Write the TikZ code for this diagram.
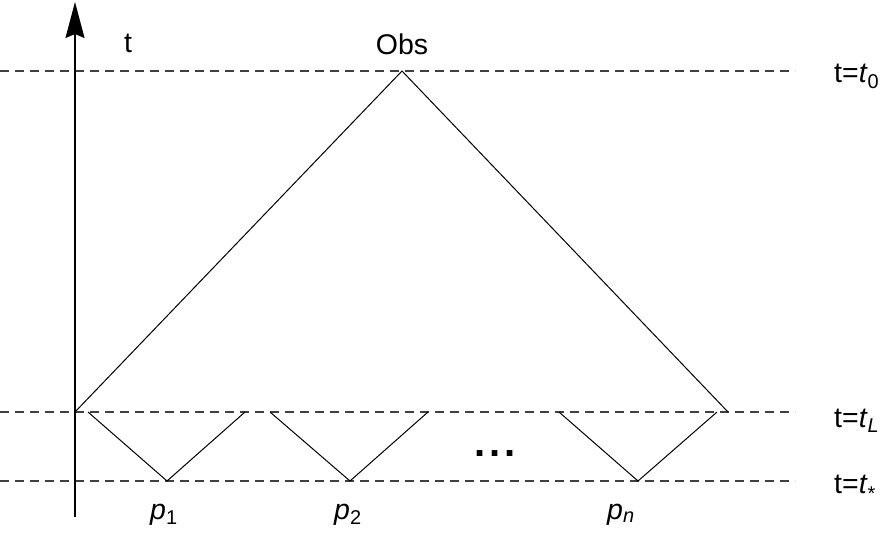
\documentclass[tikz,border=0pt]{standalone}
\usepackage{fontspec}
\setmainfont{Liberation Sans}
\usetikzlibrary{arrows.meta}
\begin{document}
\begin{tikzpicture}[x=1pt,y=-1pt,
  guide/.style={black!75,line width=1.1pt,dash pattern=on 9pt off 6pt},
  ray/.style={black,line width=1pt,line join=miter},
  axis/.style={black,line width=1.4pt,-{Stealth[length=36pt,width=19pt,inset=4pt]}},
  lbl/.style={inner sep=0pt,font=\fontsize{28.5}{33}\selectfont}]
\useasboundingbox (0,0) rectangle (885,534);

% time levels
\coordinate (g0a) at (0,71);   \coordinate (g0b) at (795,71);
\coordinate (gLa) at (0,412);  \coordinate (gLb) at (795,412);
\coordinate (gSa) at (0,481);  \coordinate (gSb) at (795,481);
\draw[guide] (g0a) -- (g0b);
\draw[guide] (gLa) -- (gLb);
\draw[guide] (gSa) -- (gSb);

% time axis
\coordinate (ax0) at (75,517);
\coordinate (ax1) at (75,2);
\draw[axis] (ax0) -- (ax1);

% observer light cone
\coordinate (obs) at (402,71);
\coordinate (cl) at (75,412);
\coordinate (cr) at (728,412);
\draw[ray] (cl) -- (obs) -- (cr);

% emission cones of the sources
\coordinate (a1) at (88,412);  \coordinate (v1) at (167,481); \coordinate (b1) at (245,412);
\coordinate (a2) at (270,412); \coordinate (v2) at (350,481); \coordinate (b2) at (428,412);
\coordinate (an) at (559,412); \coordinate (vn) at (638,481); \coordinate (bn) at (717,412);
\draw[ray] (a1) -- (v1) -- (b1);
\draw[ray] (a2) -- (v2) -- (b2);
\draw[ray] (an) -- (vn) -- (bn);

% labels
\node[lbl,anchor=base] (tlab) at (128,53) {t};
\node[lbl,anchor=base] (obslab) at (402,55) {Obs};
\node[lbl,anchor=base west] (l0) at (834,83) {t=\textit{t}\textsubscript{0}};
\node[lbl,anchor=base west] (lL) at (834,427) {t=\textit{t}\textsubscript{\textit{L}}};
\node[lbl,anchor=base west] (lS) at (834,493) {t=\textit{t}\textsubscript{\raisebox{-0.2em}{*}}};
\node[lbl,anchor=base west] (p1) at (150,519) {\textit{p}\textsubscript{1}};
\node[lbl,anchor=base west] (p2) at (334,519) {\textit{p}\textsubscript{2}};
\node[lbl,anchor=base west] (pn) at (607,519) {\textit{p}\textsubscript{\textit{n}}};
\node[inner sep=0pt,anchor=base,font=\fontsize{40}{44}\selectfont\bfseries] (dots) at (495,456)
  {.\hspace{4pt}.\hspace{4pt}.};
\end{tikzpicture}
\end{document}
